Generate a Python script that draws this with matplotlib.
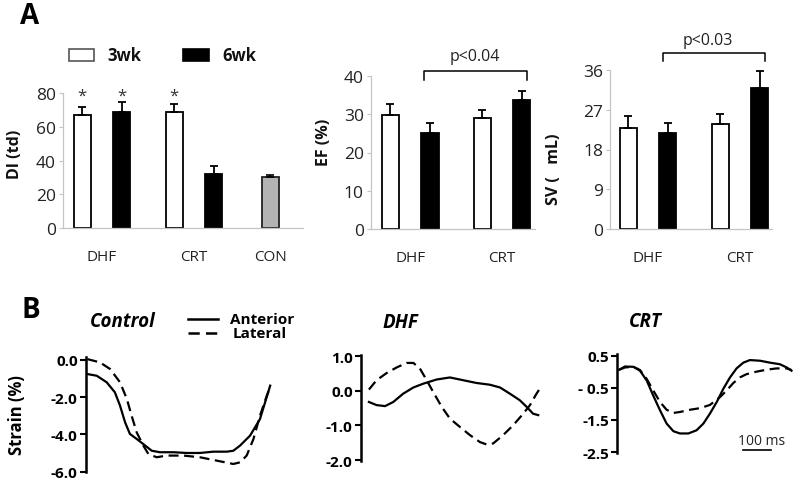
import matplotlib

matplotlib.use('Agg')
import matplotlib.pyplot as plt
from matplotlib.patches import Rectangle
import numpy as np

plt.rcParams['font.family'] = ['Open Sans', 'DejaVu Sans']

W, H = 800, 489

# panel A data (means and upper error)
di_groups = ['DHF', 'CRT', 'CON']
di_3wk = [67, 69]
di_3wk_err = [4.5, 4.5]
di_6wk = [69, 32]
di_6wk_err = [5.5, 5.0]
di_con = 30.5
di_con_err = 1.0

ef_groups = ['DHF', 'CRT']
ef_3wk = [29.9, 29.0]
ef_3wk_err = [2.8, 2.0]
ef_6wk = [25.1, 33.7]
ef_6wk_err = [2.6, 2.5]

sv_groups = ['DHF', 'CRT']
sv_3wk = [22.9, 23.8]
sv_3wk_err = [2.6, 2.3]
sv_6wk = [21.7, 31.9]
sv_6wk_err = [2.2, 3.9]

# panel B strain traces (time in ms, strain in %)
ctl_ant_t = [5, 38, 73, 102, 120, 138, 155, 179, 202, 232, 261, 308, 355, 402, 449, 497, 520, 544, 579, 614, 650]
ctl_ant = [-0.77, -0.86, -1.21, -1.75, -2.46, -3.36, -3.98, -4.25, -4.52, -4.88, -4.96, -4.96, -5.0, -5.0,
           -4.93, -4.93, -4.88, -4.6, -4.07, -3.18, -1.39]
ctl_lat_t = [5, 49, 85, 120, 144, 161, 179, 202, 220, 249, 285, 344, 402, 461, 520, 544, 567, 591, 614, 638, 650]
ctl_lat = [0.03, -0.14, -0.5, -1.21, -2.1, -3.0, -3.9, -4.6, -5.05, -5.23, -5.14, -5.14, -5.23, -5.41,
           -5.59, -5.5, -5.14, -4.25, -3.0, -1.93, -1.48]

dhf_ant_t = [28, 55, 85, 114, 149, 185, 220, 267, 314, 361, 408, 455, 491, 526, 561, 585, 608, 626]
dhf_ant = [-0.32, -0.41, -0.44, -0.32, -0.08, 0.10, 0.21, 0.33, 0.39, 0.31, 0.23, 0.18, 0.10, -0.08,
           -0.27, -0.46, -0.66, -0.70]
dhf_lat_t = [28, 55, 91, 126, 161, 185, 208, 232, 255, 285, 314, 349, 385, 420, 444, 467, 502, 538, 573,
             597, 620, 632]
dhf_lat = [0.04, 0.31, 0.52, 0.68, 0.81, 0.81, 0.65, 0.31, -0.03, -0.46, -0.80, -1.04, -1.28, -1.48,
           -1.55, -1.52, -1.28, -0.99, -0.66, -0.41, -0.08, 0.07]

crt_ant_t = [7, 27, 57, 80, 104, 127, 151, 174, 198, 221, 251, 280, 304, 327, 351, 374, 398, 421, 445,
             468, 504, 539, 574, 598, 615]
crt_ant = [0.07, 0.17, 0.16, 0.04, -0.27, -0.74, -1.20, -1.61, -1.85, -1.92, -1.92, -1.82, -1.61, -1.30,
           -0.94, -0.53, -0.17, 0.11, 0.29, 0.37, 0.35, 0.29, 0.24, 0.14, 0.04]
crt_lat_t = [7, 27, 57, 80, 104, 127, 151, 174, 198, 221, 257, 292, 327, 362, 386, 409, 433, 456, 492,
             527, 562, 598, 615]
crt_lat = [0.07, 0.14, 0.16, 0.06, -0.22, -0.58, -0.94, -1.18, -1.28, -1.25, -1.18, -1.13, -1.03, -0.79,
           -0.58, -0.35, -0.17, -0.07, 0.01, 0.07, 0.11, 0.11, 0.06]


def box(l, t, r, b):
    return [l / W, 1 - b / H, (r - l) / W, (b - t) / H]


def fx(px):
    return px / W


def fy(py):
    return 1 - py / H


fig = plt.figure(figsize=(8, 4.89), dpi=100)

GRAY = '#c4c4c4'
BW = 0.185
OFF = 0.215


def style_bar_axes(ax, ylim, yticks, ylabel, groups, gx, xlim):
    ax.set_ylim(*ylim)
    ax.set_xlim(*xlim)
    ax.set_yticks(yticks)
    ax.set_xticks(gx)
    ax.set_xticklabels(groups)
    for s in ['top', 'right']:
        ax.spines[s].set_visible(False)
    for s in ['left', 'bottom']:
        ax.spines[s].set_color(GRAY)
        ax.spines[s].set_linewidth(0.9)
    ax.tick_params(axis='y', colors=GRAY, length=3, width=0.8, labelcolor='#222222', labelsize=12.5, pad=2)
    ax.tick_params(axis='x', length=0, labelcolor='#222222', labelsize=11, pad=15)
    ax.set_ylabel(ylabel, fontweight='bold', fontsize=11.5, color='#111111')


def draw_pairs(ax, v3, e3, v6, e6):
    x = np.arange(len(v3))
    ax.bar(x - OFF, v3, BW, color='white', edgecolor='black', linewidth=1.3, zorder=2)
    ax.bar(x + OFF, v6, BW, color='black', edgecolor='black', linewidth=1.3, zorder=2)
    ax.errorbar(x - OFF, v3, yerr=[np.zeros(len(v3)), e3], fmt='none', ecolor='black',
                elinewidth=1.3, capsize=3, capthick=1.3, zorder=3)
    ax.errorbar(x + OFF, v6, yerr=[np.zeros(len(v6)), e6], fmt='none', ecolor='black',
                elinewidth=1.3, capsize=3, capthick=1.3, zorder=3)


# ---- A: DI
ax1 = fig.add_axes(box(63, 94, 303, 229))
draw_pairs(ax1, di_3wk, di_3wk_err, di_6wk, di_6wk_err)
ax1.bar([1.83], [di_con], BW, color='#b3b3b3', edgecolor='#222222', linewidth=1.3, zorder=2)
ax1.errorbar([1.83], [di_con], yerr=[[0], [di_con_err]], fmt='none', ecolor='black',
             elinewidth=1.2, capsize=3, capthick=1.2, zorder=3)
style_bar_axes(ax1, (0, 80), [0, 20, 40, 60, 80], 'DI (td)', di_groups, [0, 1, 1.83], (-0.424, 2.185))
ax1.yaxis.set_label_coords(-0.167, 0.55)
for xs in [-OFF, OFF, 1 - OFF]:
    ax1.text(xs, 78.5, '*', ha='center', va='center', fontsize=12, color='#333333')

# ---- A: EF
ax2 = fig.add_axes(box(370.7, 77, 535, 230))
draw_pairs(ax2, ef_3wk, ef_3wk_err, ef_6wk, ef_6wk_err)
style_bar_axes(ax2, (0, 40), [0, 10, 20, 30, 40], 'EF (%)', ef_groups, [0, 1], (-0.43, 1.357))
ax2.yaxis.set_label_coords(-0.235, 0.57)
ax2.plot([0.15, 0.15, 1.27, 1.27], [38.9, 41.3, 41.3, 38.9], color='black', lw=1.1, clip_on=False)
ax2.text(0.70, 45.2, 'p<0.04', ha='center', va='center', fontsize=11.5, color='#222222', clip_on=False)

# ---- A: SV
ax3 = fig.add_axes(box(610, 71, 772, 230))
draw_pairs(ax3, sv_3wk, sv_3wk_err, sv_6wk, sv_6wk_err)
style_bar_axes(ax3, (0, 36), [0, 9, 18, 27, 36], 'SV (   mL)', sv_groups, [0, 1], (-0.413, 1.348))
ax3.yaxis.set_label_coords(-0.296, 0.38)
ax3.plot([0.163, 0.163, 1.27, 1.27], [38.0, 39.85, 39.85, 38.0], color='black', lw=1.1, clip_on=False)
ax3.text(0.65, 42.8, 'p<0.03', ha='center', va='center', fontsize=11.5, color='#222222', clip_on=False)

# legend for A
fig.patches.append(Rectangle((fx(69), fy(62)), fx(25), 12 / H, transform=fig.transFigure,
                             facecolor='white', edgecolor='#555555', linewidth=1.2))
fig.patches.append(Rectangle((fx(183), fy(62)), fx(26), 12 / H, transform=fig.transFigure,
                             facecolor='black', edgecolor='black', linewidth=1.2))
fig.text(fx(107), fy(56), '3wk', fontsize=12, fontweight='bold', va='center', color='#111111')
fig.text(fx(222), fy(56), '6wk', fontsize=12, fontweight='bold', va='center', color='#111111')

fig.text(fx(20), fy(17), 'A', fontsize=20, fontweight='bold', va='center')
fig.text(fx(21), fy(311), 'B', fontsize=20, fontweight='bold', va='center')


# ---- B: strain traces
def style_trace_axes(ax, ylim, yticks, yticklabels, xlim):
    ax.set_ylim(*ylim)
    ax.set_xlim(*xlim)
    ax.set_yticks(yticks)
    ax.set_yticklabels(yticklabels)
    ax.set_xticks([])
    for s in ['top', 'right', 'bottom']:
        ax.spines[s].set_visible(False)
    ax.spines['left'].set_linewidth(1.8)
    ax.tick_params(axis='y', length=4, width=1.5, labelsize=11, pad=2)
    for lab in ax.get_yticklabels():
        lab.set_fontweight('bold')
    ax.patch.set_alpha(0)


LW = 1.6
DASH = (0, (4.5, 2.5))

ax4 = fig.add_axes(box(86, 358, 275, 473))
ax4.plot(ctl_ant_t, ctl_ant, color='black', lw=LW, clip_on=False)
ax4.plot(ctl_lat_t, ctl_lat, color='black', lw=LW, ls=DASH, clip_on=False)
style_trace_axes(ax4, (-6.02, 0.145), [0, -2, -4, -6], ['0.0', '-2.0', '-4.0', '-6.0'], (0, 667))
ax4.set_ylabel('Strain (%)', fontweight='bold', fontsize=12)
ax4.yaxis.set_label_coords(-0.32, 0.5)

ax5 = fig.add_axes(box(361, 356, 545, 461.7))
ax5.plot(dhf_ant_t, dhf_ant, color='black', lw=LW, clip_on=False)
ax5.plot(dhf_lat_t, dhf_lat, color='black', lw=LW, ls=DASH, clip_on=False)
style_trace_axes(ax5, (-2.02, 1.04), [1, 0, -1, -2], ['1.0', '0.0', '-1.0', '-2.0'], (0, 650))

ax6 = fig.add_axes(box(617.3, 355, 800, 454))
ax6.plot(crt_ant_t, crt_ant, color='black', lw=LW, clip_on=False)
ax6.plot(crt_lat_t, crt_lat, color='black', lw=LW, ls=DASH, clip_on=False)
style_trace_axes(ax6, (-2.53, 0.56), [0.5, -0.5, -1.5, -2.5], ['0.5', '- 0.5', '-1.5', '-2.5'], (0, 645))
ax6.plot([444, 544], [-2.43, -2.43], color='black', lw=1.2)
ax6.text(511, -2.14, '100 ms', ha='center', va='center', fontsize=10, color='#222222')

# titles for B
fig.text(fx(123), fy(322), 'Control', fontsize=13.5, fontweight='bold', fontstyle='italic',
         ha='center', va='center')
fig.text(fx(400), fy(323), 'DHF', fontsize=13.5, fontweight='bold', fontstyle='italic',
         ha='center', va='center')
fig.text(fx(645), fy(322), 'CRT', fontsize=13.5, fontweight='bold', fontstyle='italic',
         ha='center', va='center')

# legend for B
fig.add_artist(plt.Line2D([fx(188), fx(218)], [fy(320), fy(320)], color='black', lw=1.8))
fig.add_artist(plt.Line2D([fx(188), fx(218)], [fy(334), fy(334)], color='black', lw=1.8, ls=DASH))
fig.text(fx(230), fy(320), 'Anterior', fontsize=11, fontweight='bold', va='center')
fig.text(fx(233), fy(334), 'Lateral', fontsize=11, fontweight='bold', va='center')

fig.savefig('out.png', dpi=100)
